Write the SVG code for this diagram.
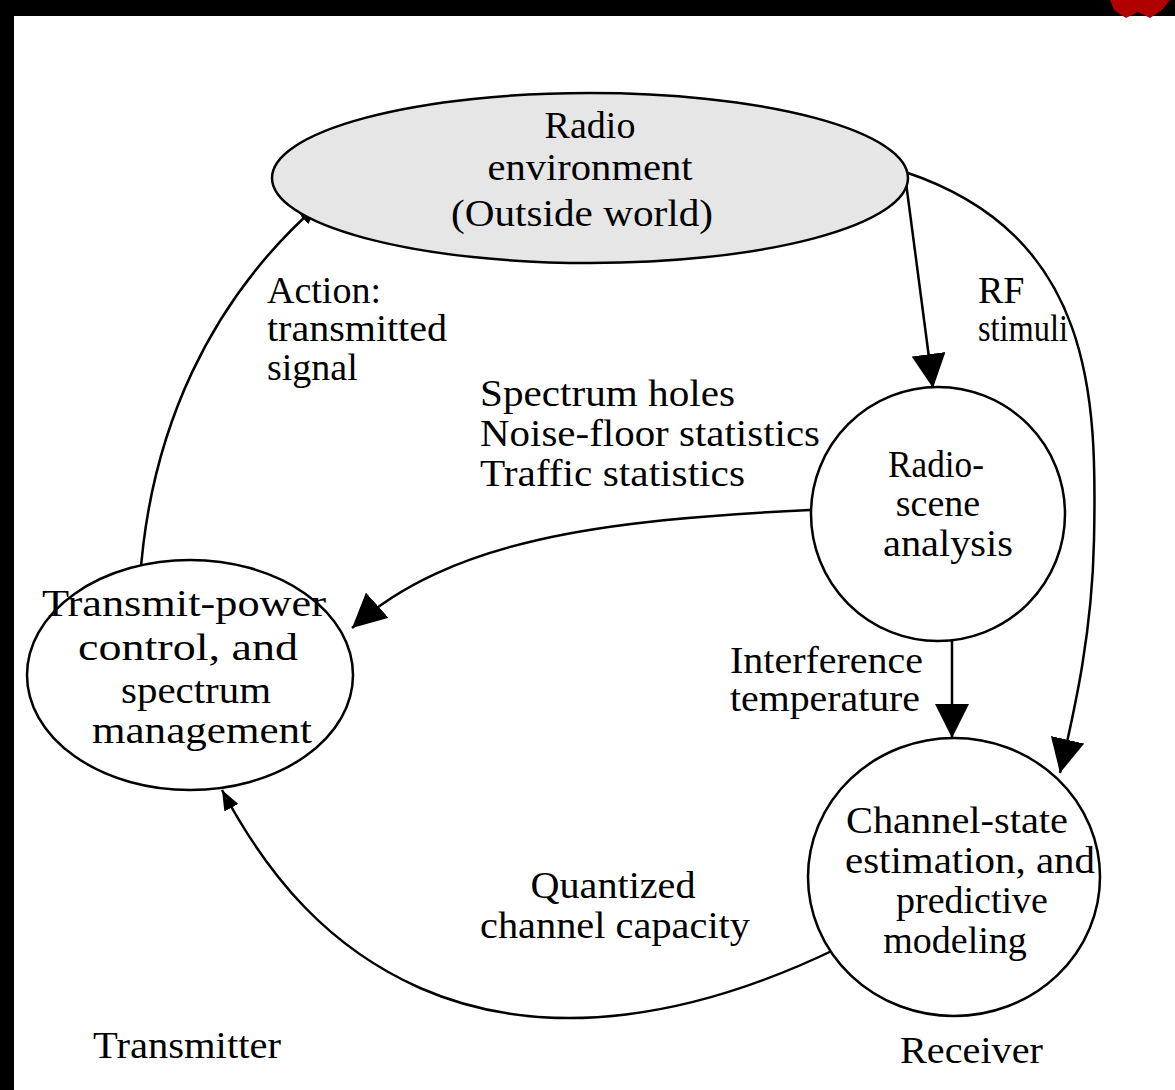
<svg xmlns="http://www.w3.org/2000/svg" width="1175" height="1090" viewBox="0 0 1175 1090">
  <style>
    .node { fill: #ffffff; stroke: #000000; stroke-width: 2.5; }
    .world { fill: #e6e6e6; stroke: #000000; stroke-width: 2.5; }
    .label { font-family: "Liberation Serif", "Times New Roman", serif; font-size: 38px; fill: #000000; }
    .mid { text-anchor: middle; }
    .edge { fill: none; stroke: #000000; stroke-width: 2.5; }
  </style>
  <defs>
    <marker id="head" viewBox="0 0 10 10" refX="10" refY="5" markerWidth="34" markerHeight="34" markerUnits="userSpaceOnUse" orient="auto">
      <path d="M0,0 L10,5 L0,10 z" fill="#000000"/>
    </marker>
    <marker id="small" viewBox="0 0 10 10" refX="10" refY="5" markerWidth="20" markerHeight="20" markerUnits="userSpaceOnUse" orient="auto">
      <path d="M0,1 L10,5 L0,9 z" fill="#000000"/>
    </marker>
  </defs>

  <!-- page background and dark frame -->
  <rect x="0" y="0" width="1175" height="1090" fill="#ffffff"/>
  <rect x="0" y="0" width="1175" height="16" fill="#000000"/>
  <rect x="0" y="0" width="14" height="1090" fill="#000000"/>
  <path d="M1110,0 L1170,0 L1162,10 L1150,18 L1138,12 L1126,18 L1114,10 z" fill="#b00000"/>

  <!-- connectors -->
  <g id="connectors">
    <!-- transmitter to radio environment -->
    <path class="edge" d="M140,580 C150,430 210,300 318,205" marker-end="url(#small)"/>
    <!-- environment to radio-scene analysis -->
    <path class="edge" d="M905,175 L933,388" marker-end="url(#head)"/>
    <!-- environment to channel-state estimation -->
    <path class="edge" d="M905,172 C1095,235 1097,400 1094,540 C1092,640 1072,720 1060,773" marker-end="url(#head)"/>
    <!-- radio-scene analysis to transmit-power control -->
    <path class="edge" d="M810,510 C600,520 450,540 352,628" marker-end="url(#head)"/>
    <!-- radio-scene analysis to channel-state estimation -->
    <path class="edge" d="M952,641 L952,738" marker-end="url(#head)"/>
    <!-- channel-state estimation to transmit-power control -->
    <path class="edge" d="M838,948 C700,1015 550,1045 420,988 C330,948 270,880 222,790" marker-end="url(#small)"/>
  </g>

  <!-- radio environment -->
  <g id="node-environment">
    <ellipse class="world" cx="590" cy="178" rx="318" ry="85"/>
    <text class="label mid" x="590" y="138">Radio</text>
    <text class="label mid" x="590" y="180" textLength="205" lengthAdjust="spacingAndGlyphs">environment</text>
    <text class="label mid" x="582" y="226" textLength="262" lengthAdjust="spacingAndGlyphs">(Outside world)</text>
  </g>

  <!-- radio-scene analysis -->
  <g id="node-scene">
    <circle class="node" cx="938" cy="514" r="127"/>
    <text class="label mid" x="936" y="477" textLength="96" lengthAdjust="spacingAndGlyphs">Radio-</text>
    <text class="label mid" x="938" y="516">scene</text>
    <text class="label mid" x="948" y="556" textLength="130" lengthAdjust="spacingAndGlyphs">analysis</text>
  </g>

  <!-- channel-state estimation -->
  <g id="node-channel">
    <ellipse class="node" cx="954" cy="877" rx="146" ry="139"/>
    <text class="label mid" x="957" y="833" textLength="222" lengthAdjust="spacingAndGlyphs">Channel-state</text>
    <text class="label mid" x="970" y="873" textLength="250" lengthAdjust="spacingAndGlyphs">estimation, and</text>
    <text class="label mid" x="972" y="913">predictive</text>
    <text class="label mid" x="955" y="953">modeling</text>
  </g>

  <!-- transmit-power control -->
  <g id="node-transmit">
    <ellipse class="node" cx="190" cy="675" rx="163" ry="115"/>
    <text class="label mid" x="184" y="616" textLength="284" lengthAdjust="spacingAndGlyphs">Transmit-power</text>
    <text class="label mid" x="188" y="660" textLength="220" lengthAdjust="spacingAndGlyphs">control, and</text>
    <text class="label mid" x="196" y="703" textLength="150" lengthAdjust="spacingAndGlyphs">spectrum</text>
    <text class="label mid" x="202" y="743" textLength="220" lengthAdjust="spacingAndGlyphs">management</text>
  </g>

  <!-- connector labels -->
  <g id="edge-labels">
    <text class="label" x="267" y="303">Action:</text>
    <text class="label" x="267" y="341" textLength="180" lengthAdjust="spacingAndGlyphs">transmitted</text>
    <text class="label" x="267" y="380">signal</text>
    <text class="label" x="978" y="303">RF</text>
    <text class="label" x="978" y="341" textLength="90" lengthAdjust="spacingAndGlyphs">stimuli</text>
    <text class="label" x="480" y="406" textLength="255" lengthAdjust="spacingAndGlyphs">Spectrum holes</text>
    <text class="label" x="480" y="446" textLength="340" lengthAdjust="spacingAndGlyphs">Noise-floor statistics</text>
    <text class="label" x="480" y="486" textLength="265" lengthAdjust="spacingAndGlyphs">Traffic statistics</text>
    <text class="label" x="730" y="673" textLength="193" lengthAdjust="spacingAndGlyphs">Interference</text>
    <text class="label" x="730" y="711" textLength="190" lengthAdjust="spacingAndGlyphs">temperature</text>
    <text class="label mid" x="613" y="898" textLength="165" lengthAdjust="spacingAndGlyphs">Quantized</text>
    <text class="label mid" x="615" y="938" textLength="270" lengthAdjust="spacingAndGlyphs">channel capacity</text>
  </g>

  <!-- side captions -->
  <g id="captions">
    <text class="label" x="93" y="1058" textLength="188" lengthAdjust="spacingAndGlyphs">Transmitter</text>
    <text class="label" x="900" y="1063" textLength="143" lengthAdjust="spacingAndGlyphs">Receiver</text>
  </g>
</svg>
